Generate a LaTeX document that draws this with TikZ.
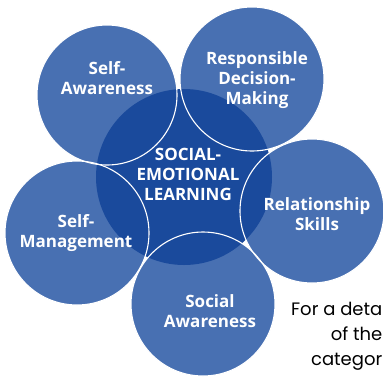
\documentclass[tikz,border=0pt]{standalone}
\usepackage{fontspec}
\setmainfont{Open Sans}
\newfontfamily\notefont{Poppins}
\definecolor{outerblue}{RGB}{72,112,178}
\definecolor{innerblue}{RGB}{26,74,156}
\begin{document}
\begin{tikzpicture}[x=1pt,y=-1pt,
  outer/.style={fill=outerblue},
  rim/.style={draw=white,line width=1.1pt},
  lbl/.style={text=white,font=\bfseries\fontsize{17}{20}\selectfont,align=center,inner sep=0pt,anchor=base},
  note/.style={text=black,font=\notefont\fontsize{18}{25}\selectfont,align=right,inner sep=0pt,anchor=base east}]
\useasboundingbox (0,0) rectangle (383,376);
\clip (0,0) rectangle (383,376);
% outer circle fills
\fill[outer] (107,95) circle (70);
\fill[outer] (252,79) circle (72);
\fill[outer] (312,211) circle (72);
\fill[outer] (77,233) circle (72);
\fill[outer] (203,304) circle (72);
% centre
\fill[innerblue] (184,177) circle (88);
% rims
\draw[rim] (107,95) circle (70);
\draw[rim] (252,79) circle (72);
\draw[rim] (312,211) circle (72);
\draw[rim] (77,233) circle (72);
\draw[rim] (203,304) circle (72);
% labels (anchored at the baseline of the last line)
\node[lbl] (sel) at (188,200) {SOCIAL-\\EMOTIONAL\\LEARNING};
\node[lbl] (saw) at (107,94) {Self-\\Awareness};
\node[lbl] (rdm) at (257,104) {Responsible\\Decision-\\Making};
\node[lbl] (rel) at (317,230) {Relationship\\Skills};
\node[lbl] (smg) at (76,247) {Self-\\Management};
\node[lbl] (soc) at (210,327) {Social\\Awareness};
\node[note] (nt) at (382.5,365) {For a deta\\of the\\categor};
\end{tikzpicture}
\end{document}
